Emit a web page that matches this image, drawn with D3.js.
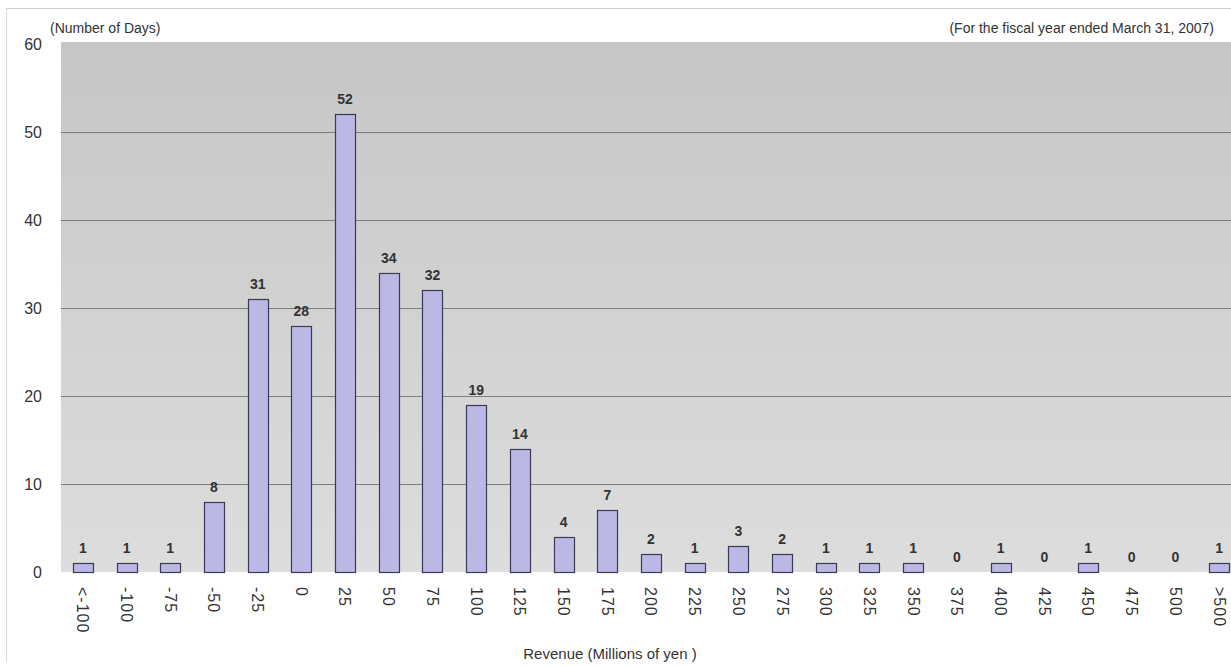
<!DOCTYPE html>
<html>
<head>
<meta charset="utf-8">
<script src="https://cdnjs.cloudflare.com/ajax/libs/d3/7.8.5/d3.min.js"></script>
<style>
  body { margin: 0; background: #fff; }
  svg { display: block; font-family: "Liberation Sans", Arial, sans-serif; }
</style>
</head>
<body>
<script>
var categories = ["<-100", "-100", "-75", "-50", "-25", "0", "25", "50", "75", "100", "125", "150", "175",
  "200", "225", "250", "275", "300", "325", "350", "375", "400", "425", "450", "475", "500", ">500"];
var days = [1, 1, 1, 8, 31, 28, 52, 34, 32, 19, 14, 4, 7, 2, 1, 3, 2, 1, 1, 1, 0, 1, 0, 1, 0, 0, 1];
var yTicks = [0, 10, 20, 30, 40, 50, 60];

var width = 1231,
  height = 666;

// plot box (note: "top" is reserved on window, so use other names)
var plotL = 61, plotR = 1241, plotT = 42, plotB = 572;

var svg = d3.select("body").append("svg")
    .attr("width", width)
    .attr("height", height);

var defs = svg.append("defs");
var grad = defs.append("linearGradient")
    .attr("id", "bg")
    .attr("x1", 0).attr("y1", 0).attr("x2", 0).attr("y2", 1);
grad.append("stop").attr("offset", "0%").attr("stop-color", "#c6c6c6");
grad.append("stop").attr("offset", "100%").attr("stop-color", "#dddddd");

// outer frame
svg.append("line")
    .attr("x1", 6).attr("x2", width).attr("y1", 8.5).attr("y2", 8.5)
    .attr("stroke", "#cfcfcf");
svg.append("line")
    .attr("x1", 6.5).attr("x2", 6.5).attr("y1", 8).attr("y2", 662)
    .attr("stroke", "#d8d8d8");

var x = d3.scaleBand()
    .domain(categories)
    .range([plotL, plotR])
    .paddingInner(0.54)
    .paddingOuter(0.27);

var y = d3.scaleLinear()
    .domain([0, 60])
    .range([plotB, plotT + 2]);

// plot background
svg.append("rect")
    .attr("x", plotL).attr("y", plotT)
    .attr("width", plotR - plotL).attr("height", plotB - plotT)
    .attr("fill", "url(#bg)");

// grid lines
svg.selectAll(".grid")
    .data(yTicks.filter(function(d){ return d > 0 && d < 60; }))
    .enter().append("line")
    .attr("class", "grid")
    .attr("x1", plotL).attr("x2", plotR)
    .attr("y1", function(d){ return Math.round(y(d)) + 0.5; })
    .attr("y2", function(d){ return Math.round(y(d)) + 0.5; })
    .attr("stroke", "#7e7e7e");

// y tick labels
svg.selectAll(".ylab")
    .data(yTicks)
    .enter().append("text")
    .attr("class", "ylab")
    .attr("x", 42)
    .attr("y", function(d){ return y(d); })
    .attr("dy", "0.35em")
    .attr("text-anchor", "end")
    .attr("font-size", 16)
    .attr("fill", "#333")
    .text(function(d){ return d; });

// bars
svg.selectAll(".bar")
    .data(days)
    .enter().append("rect")
    .attr("class", "bar")
    .attr("x", function(d, i){ return Math.round(x(categories[i])) + 0.5; })
    .attr("y", function(d){ return Math.round(y(d)) + 0.5; })
    .attr("width", Math.round(x.bandwidth()))
    .attr("height", function(d){ return Math.max(0, Math.round(y(0)) - Math.round(y(d))); })
    .attr("fill", "#bcb8e6")
    .attr("stroke", "#3a3a55")
    .attr("stroke-width", 1.2)
    .style("display", function(d){ return d > 0 ? null : "none"; });

// value labels
svg.selectAll(".val")
    .data(days)
    .enter().append("text")
    .attr("class", "val")
    .attr("x", function(d, i){ return x(categories[i]) + x.bandwidth() / 2; })
    .attr("y", function(d){ return y(d) - 10; })
    .attr("text-anchor", "middle")
    .attr("font-size", 14)
    .attr("font-weight", "bold")
    .attr("fill", "#333")
    .text(function(d){ return d; });

// x labels, rotated
svg.selectAll(".xlab")
    .data(categories)
    .enter().append("text")
    .attr("class", "xlab")
    .attr("transform", function(d){
      return "translate(" + (x(d) + x.bandwidth() / 2) + "," + (plotB + 15) + ") rotate(90)";
    })
    .attr("dy", "0.35em")
    .attr("text-anchor", "start")
    .attr("font-size", 16)
    .attr("letter-spacing", 1)
    .attr("fill", "#333")
    .text(function(d){ return d; });

svg.append("text")
    .attr("x", 610).attr("y", 659)
    .attr("text-anchor", "middle")
    .attr("font-size", 15)
    .attr("fill", "#333")
    .text("Revenue (Millions of yen )");

svg.append("text")
    .attr("x", 50).attr("y", 33)
    .attr("font-size", 14)
    .attr("fill", "#333")
    .text("(Number of Days)");

svg.append("text")
    .attr("x", 1214).attr("y", 33)
    .attr("text-anchor", "end")
    .attr("font-size", 14)
    .attr("fill", "#333")
    .text("(For the fiscal year ended March 31, 2007)");
</script>
</body>
</html>
